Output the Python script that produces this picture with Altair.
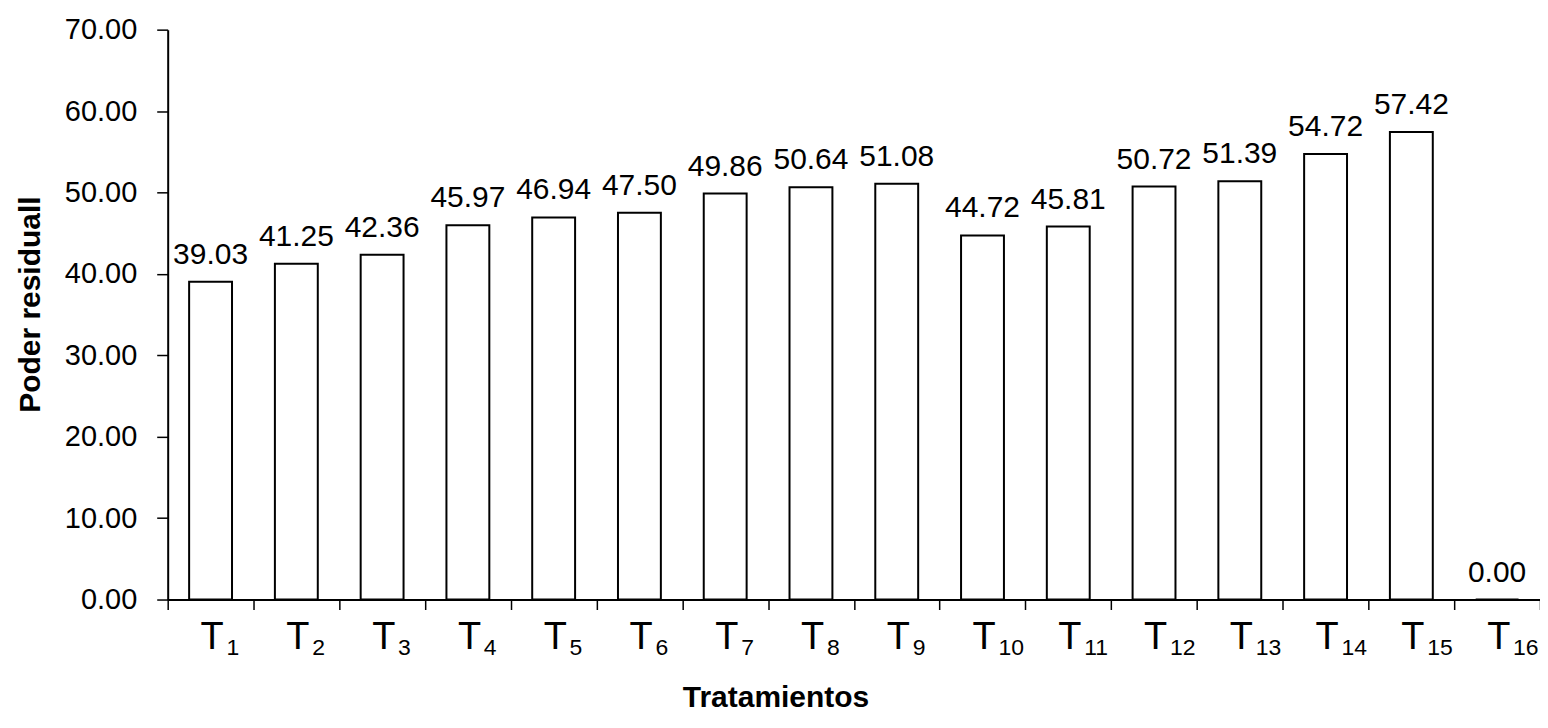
import altair as alt
import pandas as pd

tratamientos = [f"T{i}" for i in range(1, 17)]
letras = ["T"] * 16
subindices = [str(i) for i in range(1, 17)]
valores = [39.03, 41.25, 42.36, 45.97, 46.94, 47.50, 49.86, 50.64,
           51.08, 44.72, 45.81, 50.72, 51.39, 54.72, 57.42, 0.00]
y_ticks = [0, 10, 20, 30, 40, 50, 60, 70]

df = pd.DataFrame({"trat": tratamientos, "letra": letras, "sub": subindices, "valor": valores})

FONT = "Liberation Sans"
W, H = 1375, 571

x_enc = alt.X(
    "trat:N", sort=tratamientos,
    scale=alt.Scale(paddingInner=0, paddingOuter=0),
    axis=alt.Axis(
        title="Tratamientos", labels=False,
        tickBand="extent", tickSize=10, tickColor="black", tickWidth=1.5,
        domainColor="black", domainWidth=2, grid=False,
        titleFont=FONT, titleFontSize=30, titleFontWeight="bold",
        titleColor="black", titleX=609, titleY=107,
        titleBaseline="alphabetic", titleAlign="center",
    ),
)

base = alt.Chart(df).encode(x=x_enc)

y_enc = alt.Y(
    "valor:Q", scale=alt.Scale(domain=[0, 70], nice=False),
    axis=alt.Axis(
        values=y_ticks, format=".2f", grid=False,
        labelFont=FONT, labelFontSize=29, labelColor="black", labelPadding=20,
        tickSize=11, tickColor="black", tickWidth=1.5,
        domainColor="black", domainWidth=2,
        title="Poder residuall", titleFont=FONT, titleFontSize=30,
        titleFontWeight="bold", titleColor="black", titleAngle=-90,
        titleX=-128, titleY=275, titleBaseline="alphabetic", titleAlign="center",
    ),
)

bars = base.mark_bar(
    width=alt.RelativeBandSize(0.5), fill="white", stroke="black", strokeWidth=2
).encode(y=y_enc)

etiquetas = base.mark_text(
    baseline="alphabetic", dy=-18, font=FONT, fontSize=30, color="black"
).encode(y=alt.Y("valor:Q"), text=alt.Text("valor:Q", format=".2f"))

letra_t = base.mark_text(
    align="left", baseline="alphabetic", dx=-10, font=FONT, fontSize=38, color="black"
).encode(y=alt.value(H + 50), text=alt.Text("letra:N"))

subs = base.mark_text(
    align="left", baseline="alphabetic", dx=16, font=FONT, fontSize=23, color="black"
).encode(y=alt.value(H + 56), text=alt.Text("sub:N"))

chart = (
    alt.layer(bars, etiquetas, letra_t, subs)
    .properties(
        width=W, height=H,
        autosize=alt.AutoSizeParams(type="none"),
        padding={"left": 160, "top": 21, "right": 0, "bottom": 114},
        background="white",
    )
    .configure_view(stroke=None)
)

chart.save("out.html", embed_options={"renderer": "svg", "actions": False})
